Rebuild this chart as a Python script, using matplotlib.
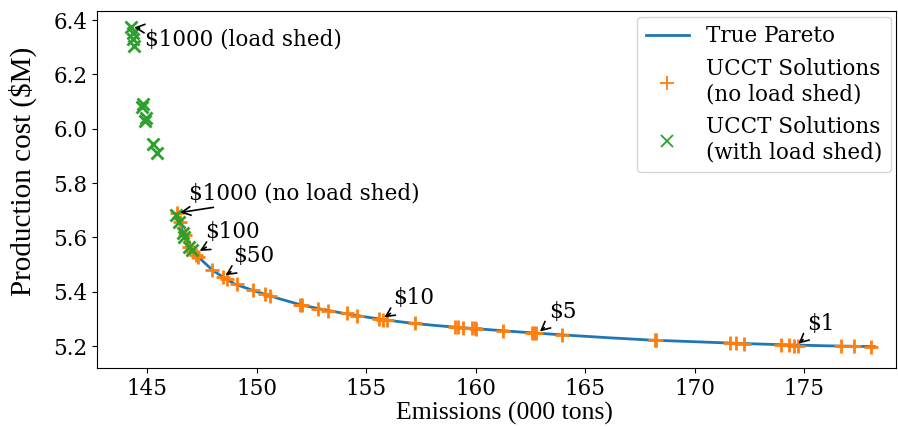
import matplotlib
matplotlib.use("Agg")
import matplotlib.pyplot as plt

# true pareto front
pareto_x = [146.35, 146.6, 147.0, 147.5, 148.0, 148.5, 149.0, 150.0, 151.0, 152.0,
            153.0, 154.0, 155.0, 156.0, 157.0, 158.0, 159.0, 160.0, 162.0, 164.0,
            166.0, 168.0, 170.0, 172.0, 174.0, 176.0, 178.2]
pareto_y = [5.690, 5.625, 5.560, 5.515, 5.478, 5.452, 5.428, 5.400, 5.375, 5.352,
            5.335, 5.320, 5.307, 5.295, 5.285, 5.277, 5.270, 5.264, 5.252, 5.241,
            5.231, 5.222, 5.216, 5.210, 5.205, 5.201, 5.198]

# UCCT solutions without load shed
nols_x = [146.37, 146.5, 146.7, 146.9, 147.1, 147.2, 147.3, 147.96, 148.47, 148.65,
          149.1, 149.83, 150.38, 150.6, 151.98, 152.05, 152.8, 153.25, 154.12, 154.58,
          155.6, 155.76, 155.94, 157.22, 159.04, 159.2, 159.4, 159.82, 159.95, 160.0,
          161.23, 162.56, 162.65, 162.75, 163.92, 168.17, 168.25, 171.6, 171.9, 172.27,
          173.96, 174.32, 174.55, 174.7, 176.69, 177.28, 178.06]
nols_y = [5.690, 5.655, 5.610, 5.565, 5.545, 5.535, 5.528, 5.480, 5.455, 5.447,
          5.427, 5.405, 5.390, 5.383, 5.352, 5.350, 5.338, 5.330, 5.320, 5.312,
          5.300, 5.297, 5.295, 5.285, 5.270, 5.269, 5.268, 5.266, 5.265, 5.264,
          5.256, 5.248, 5.247, 5.247, 5.241, 5.222, 5.222, 5.211, 5.210, 5.209,
          5.204, 5.203, 5.202, 5.201, 5.200, 5.199, 5.198]

# UCCT solutions with load shed
ls_x = [144.27, 144.35, 144.36, 144.4, 144.78, 144.75, 144.95, 144.9, 145.27, 145.46,
        146.32, 146.46, 146.64, 146.69, 146.92, 147.05]
ls_y = [6.374, 6.352, 6.330, 6.305, 6.090, 6.080, 6.040, 6.030, 5.944, 5.910,
        5.682, 5.657, 5.616, 5.601, 5.565, 5.553]

# annotations: label, point, text position
ann_labels = ["$1000 (load shed)", "$1000 (no load shed)", "$100", "$50", "$10", "$5", "$1"]
ann_pts = [(144.27, 6.374), (146.37, 5.690), (147.28, 5.545), (148.47, 5.455),
           (155.72, 5.300), (162.83, 5.247), (174.64, 5.202)]
ann_txt = [(144.9, 6.33), (146.92, 5.763), (147.64, 5.62), (148.92, 5.53),
           (156.22, 5.377), (163.33, 5.325), (175.14, 5.281)]

plt.rcParams['font.family'] = 'DejaVu Serif'
plt.rcParams['font.size'] = 15.5

fig = plt.figure(figsize=(8.98, 4.29), dpi=100)
ax = fig.add_axes([0.108, 0.142, 0.89, 0.832])

ax.plot(pareto_x, pareto_y, color='#1f77b4', lw=2, label='True Pareto')
ax.plot(nols_x, nols_y, '+', color='#ff7f0e', ms=10, mew=2,
        label='UCCT Solutions\n(no load shed)')
ax.plot(ls_x, ls_y, 'x', color='#2ca02c', ms=9, mew=2,
        label='UCCT Solutions\n(with load shed)')

for lab, p, t in zip(ann_labels, ann_pts, ann_txt):
    ax.annotate(lab, xy=p, xytext=t, ha='left', va='center', fontsize=15.5,
                arrowprops=dict(arrowstyle='->', color='black', lw=1.2))

ax.set_xlim(142.7, 179.2)
ax.set_ylim(5.119, 6.433)
ax.set_xticks([145, 150, 155, 160, 165, 170, 175])
ax.set_yticks([5.2, 5.4, 5.6, 5.8, 6.0, 6.2, 6.4])
ax.set_yticklabels(['5.2', '5.4', '5.6', '5.8', '6.0', '6.2', '6.4'])
ax.set_xlabel('Emissions (000 tons)', family='Liberation Serif', fontsize=18.5)
ax.set_ylabel('Production cost ($M)', family='Liberation Serif', fontsize=21)
ax.xaxis.set_label_coords(0.51, -0.095)
ax.yaxis.set_label_coords(-0.075, 0.55)

leg = ax.legend(loc='upper right', fontsize=15.5, borderaxespad=0.25)
for h in leg.legend_handles[1:]:
    h.set_markeredgewidth(1.3)

fig.savefig('out.png', dpi=100)
